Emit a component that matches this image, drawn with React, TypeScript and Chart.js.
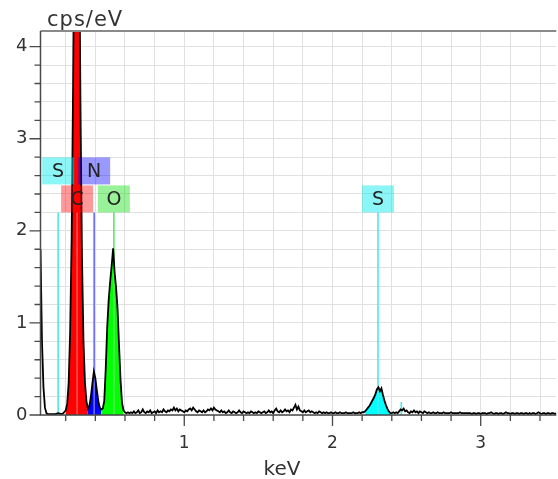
import React, { useEffect, useRef } from 'react';
import { Chart, registerables } from 'chart.js';

Chart.register(...registerables);

// Spectrum channels: 0.03 keV onward, 0.01 keV per channel (values in cps/eV)
const START_KEV = 0.03;
const STEP_KEV = 0.01;
const cps = [
  1.8, 0.8, 0.3, 0.08, 0.02, 0.01, 0.01, 0.01, 0.01, 0.01,
  0.01, 0.015, 0.02, 0.015, 0.01, 0.015, 0.03, 0.05, 0.12, 0.35,
  0.9, 1.9, 3.6, 5.8, 7.8, 7.6, 5.4, 3.3, 1.7, 0.8,
  0.35, 0.15, 0.07, 0.1, 0.2, 0.34, 0.47, 0.4, 0.27, 0.15,
  0.08, 0.06, 0.07, 0.15, 0.5, 0.95, 1.25, 1.45, 1.62, 1.81,
  1.55, 1.38, 1.15, 0.75, 0.38, 0.13, 0.05, 0.03, 0.02, 0.03,
  0.02, 0.03, 0.02, 0.04, 0.02, 0.03, 0.05, 0.02, 0.03, 0.06,
  0.03, 0.02, 0.04, 0.03, 0.05, 0.02, 0.03, 0.04, 0.02, 0.05,
  0.03, 0.04, 0.03, 0.06, 0.04, 0.03, 0.05, 0.04, 0.06, 0.05,
  0.08, 0.05, 0.07, 0.04, 0.06, 0.05, 0.04, 0.03, 0.05, 0.04,
  0.06, 0.07, 0.05, 0.08, 0.06, 0.04, 0.03, 0.05, 0.04, 0.03,
  0.05, 0.03, 0.04, 0.06, 0.05, 0.07, 0.05, 0.08, 0.06, 0.05,
  0.04, 0.03, 0.05, 0.03, 0.04, 0.02, 0.03, 0.05, 0.03, 0.02,
  0.04, 0.03, 0.02, 0.03, 0.05, 0.03, 0.02, 0.04, 0.03, 0.02,
  0.03, 0.02, 0.04, 0.03, 0.02, 0.03, 0.02, 0.04, 0.03, 0.02,
  0.03, 0.04, 0.02, 0.03, 0.05, 0.03, 0.04, 0.02, 0.05, 0.07,
  0.04, 0.03, 0.05, 0.03, 0.04, 0.06, 0.04, 0.05, 0.03, 0.06,
  0.05, 0.08, 0.11, 0.06, 0.09, 0.05, 0.04, 0.03, 0.05, 0.03,
  0.04, 0.05, 0.03, 0.04, 0.03, 0.02, 0.03, 0.02, 0.04, 0.03,
  0.02, 0.03, 0.02, 0.03, 0.02, 0.02, 0.03, 0.02, 0.02, 0.03,
  0.02, 0.02, 0.03, 0.02, 0.02, 0.02, 0.03, 0.02, 0.02, 0.02,
  0.02, 0.03, 0.02, 0.02, 0.02, 0.03, 0.02, 0.03, 0.03, 0.04,
  0.06, 0.08, 0.1, 0.13, 0.16, 0.19, 0.23, 0.28, 0.3, 0.26,
  0.29, 0.22, 0.16, 0.11, 0.07, 0.04, 0.02, 0.02, 0.03, 0.02,
  0.03, 0.02, 0.04, 0.06, 0.05, 0.07, 0.04, 0.05, 0.03, 0.02,
  0.04, 0.03, 0.05, 0.03, 0.04, 0.02, 0.04, 0.03, 0.02, 0.04,
  0.03, 0.02, 0.03, 0.02, 0.02, 0.03, 0.02, 0.02, 0.03, 0.02,
  0.02, 0.02, 0.03, 0.02, 0.02, 0.02, 0.02, 0.03, 0.02, 0.02,
  0.02, 0.02, 0.02, 0.03, 0.02, 0.02, 0.02, 0.02, 0.02, 0.02,
  0.02, 0.01, 0.02, 0.02, 0.01, 0.02, 0.02, 0.01, 0.02, 0.02,
  0.02, 0.01, 0.02, 0.02, 0.03, 0.02, 0.01, 0.02, 0.02, 0.01,
  0.02, 0.02, 0.01, 0.02, 0.03, 0.02, 0.02, 0.01, 0.02, 0.02,
  0.01, 0.02, 0.02, 0.01, 0.02, 0.02, 0.01, 0.02, 0.02, 0.01,
  0.02, 0.01, 0.02, 0.02, 0.01, 0.02, 0.03, 0.02, 0.01, 0.02,
  0.02, 0.01, 0.02, 0.02, 0.01, 0.02, 0.02, 0.01, 0.02,
];
const keV = cps.map((_, i) => Math.round((START_KEV + i * STEP_KEV) * 1000) / 1000);

// Filled peak regions (keV ranges) and their colours
const peakFrom = [0.13, 0.2, 0.35, 0.44, 2.22];
const peakTo = [0.17, 0.35, 0.44, 0.59, 2.4];
const peakColors = ['#00ffff', '#ff0000', '#0000ff', '#00ff00', '#00ffff'];

// Element marker lines and labels
const markerNames = ['S', 'C', 'N', 'O', 'S', ''];
const markerKeV = [0.149, 0.277, 0.392, 0.525, 2.307, 2.464];
const markerTop = [2.2, 2.2, 2.2, 2.2, 2.2, 0.14];
const markerRow = [1, 0, 1, 0, 0, 0];
const markerLineColors = ['#4ee8e8', '#ff5050', '#6a6aff', '#5ee85e', '#4ee8e8', '#4ee8e8'];
const labelFills = [
  'rgba(0,235,235,0.45)',
  'rgba(255,0,0,0.4)',
  'rgba(0,0,255,0.4)',
  'rgba(0,220,0,0.4)',
  'rgba(0,235,235,0.45)',
  'rgba(0,0,0,0)',
];

const X_MIN = 0.03;
const X_MAX = 3.51;
const Y_MIN = 0;
const Y_MAX = 4.17;
const MINOR_STEP = 0.2;
const xTitle = 'keV';
const yTitle = 'cps/eV';

const isInt = (v: number) => Math.abs(v - Math.round(v)) < 1e-6;

const decorPlugin = {
  id: 'decor',
  afterDatasetsDraw(chart: any) {
    const { ctx, scales } = chart;
    const x = scales.x;
    const y = scales.y;
    const W = 32;
    const H = 27;
    ctx.save();
    ctx.font = '19px "DejaVu Sans"';
    ctx.textAlign = 'center';
    ctx.textBaseline = 'middle';
    markerNames.forEach((name, i) => {
      if (!name) return;
      const cx = x.getPixelForValue(markerKeV[i]);
      const base = y.getPixelForValue(markerTop[i]);
      const bottom = base - markerRow[i] * (H + 1);
      const top = bottom - H;
      ctx.fillStyle = labelFills[i];
      ctx.fillRect(cx - W / 2, top, W, H);
      ctx.fillStyle = '#222';
      ctx.fillText(name, cx, top + H / 2 + 1);
    });
    ctx.restore();
  },
  afterDraw(chart: any) {
    const { ctx, chartArea: a, scales } = chart;
    const x = scales.x;
    const y = scales.y;
    ctx.save();
    // top border
    ctx.strokeStyle = '#8a8a8a';
    ctx.lineWidth = 2;
    ctx.beginPath();
    ctx.moveTo(a.left, a.top);
    ctx.lineTo(a.right, a.top);
    ctx.stroke();
    // axes
    ctx.strokeStyle = '#4a4a4a';
    ctx.lineWidth = 1.5;
    ctx.beginPath();
    ctx.moveTo(a.left, a.top);
    ctx.lineTo(a.left, a.bottom);
    ctx.lineTo(a.right, a.bottom);
    ctx.stroke();
    // ticks
    ctx.lineWidth = 1.3;
    ctx.beginPath();
    x.ticks.forEach((t: any) => {
      const px = x.getPixelForValue(t.value);
      const len = isInt(t.value) ? 11 : 6;
      ctx.moveTo(px, a.bottom);
      ctx.lineTo(px, a.bottom + len);
    });
    y.ticks.forEach((t: any) => {
      const py = y.getPixelForValue(t.value);
      const len = isInt(t.value) ? 11 : 6;
      ctx.moveTo(a.left, py);
      ctx.lineTo(a.left - len, py);
    });
    ctx.stroke();
    // titles
    ctx.fillStyle = '#333';
    ctx.textBaseline = 'alphabetic';
    ctx.textAlign = 'left';
    ctx.font = '21px "DejaVu Sans"';
    try {
      (ctx as any).letterSpacing = '1px';
    } catch (e) {}
    ctx.fillText(yTitle, 47, 26);
    try {
      (ctx as any).letterSpacing = '0px';
    } catch (e) {}
    ctx.textAlign = 'center';
    ctx.font = '20px "DejaVu Sans"';
    ctx.fillText(xTitle, 282, 475);
    ctx.restore();
  },
};

export default function App() {
  const ref = useRef<HTMLCanvasElement | null>(null);
  useEffect(() => {
    if (!ref.current) return;
    const points = keV.map((k, i) => ({ x: k, y: cps[i] }));
    const fillSets = peakFrom.map((from, i) => ({
      type: 'line',
      data: points.filter((p) => p.x >= from - 1e-9 && p.x <= peakTo[i] + 1e-9),
      borderWidth: 0,
      borderColor: 'rgba(0,0,0,0)',
      backgroundColor: peakColors[i],
      fill: 'origin',
      pointRadius: 0,
      tension: 0,
      order: 2,
    }));
    const markerSets = markerKeV.map((k, i) => ({
      type: 'line',
      data: [
        { x: k, y: 0 },
        { x: k, y: markerTop[i] },
      ],
      borderColor: markerLineColors[i],
      borderWidth: 1.6,
      pointRadius: 0,
      fill: false,
      order: 1,
    }));
    const chart = new Chart(ref.current, {
      type: 'line',
      data: {
        datasets: [
          {
            data: points,
            borderColor: '#000',
            borderWidth: 1.8,
            pointRadius: 0,
            fill: false,
            tension: 0,
            order: 0,
          },
          ...markerSets,
          ...fillSets,
        ] as any,
      },
      options: {
        animation: false,
        responsive: false,
        devicePixelRatio: 1,
        layout: { padding: { top: 31, left: 0, right: 0, bottom: 0 } },
        plugins: { legend: { display: false }, tooltip: { enabled: false } },
        scales: {
          x: {
            type: 'linear',
            min: X_MIN,
            max: X_MAX,
            afterFit: (s: any) => {
              s.height = 64;
            },
            grid: { color: '#e0e0e0', lineWidth: 1, drawTicks: false },
            border: { display: false },
            ticks: {
              stepSize: MINOR_STEP,
              includeBounds: false,
              autoSkip: false,
              maxRotation: 0,
              padding: 18,
              color: '#333',
              font: { family: 'DejaVu Sans', size: 17 },
              callback: (v: any) => (isInt(Number(v)) ? String(Math.round(Number(v))) : ''),
            },
          },
          y: {
            type: 'linear',
            min: Y_MIN,
            max: Y_MAX,
            afterFit: (s: any) => {
              s.width = 40.5;
            },
            grid: { color: '#e0e0e0', lineWidth: 1, drawTicks: false },
            border: { display: false },
            ticks: {
              stepSize: MINOR_STEP,
              includeBounds: false,
              autoSkip: false,
              padding: 13,
              color: '#333',
              font: { family: 'DejaVu Sans', size: 18 },
              callback: (v: any) => (isInt(Number(v)) ? String(Math.round(Number(v))) : ''),
            },
          },
        },
      },
      plugins: [decorPlugin],
    } as any);
    return () => chart.destroy();
  }, []);
  return (
    <div style={{ position: 'fixed', left: 0, top: 0, width: 558, height: 479, background: '#fff' }}>
      <canvas ref={ref} width={558} height={479} style={{ display: 'block' }} />
    </div>
  );
}
